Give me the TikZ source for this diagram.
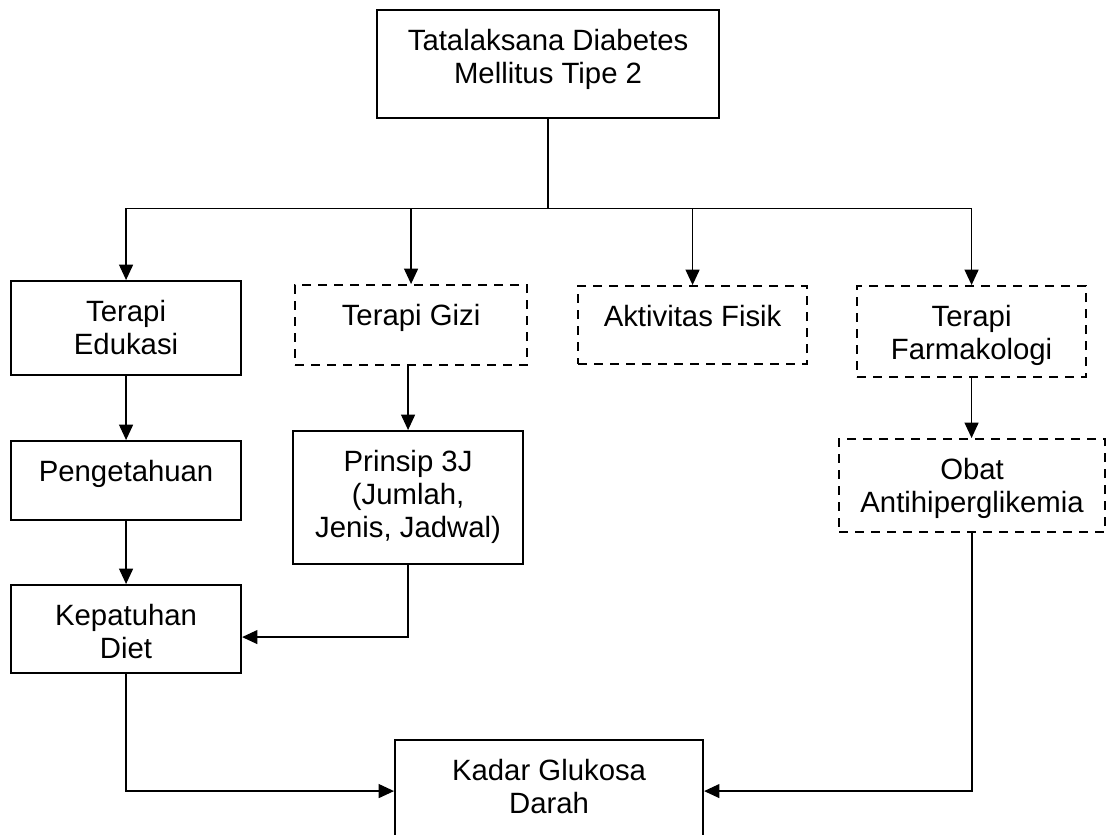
\documentclass[tikz,border=0pt]{standalone}
\usepackage{fontspec}
\setmainfont{Liberation Sans}
\usepackage{tikz}
\usetikzlibrary{arrows.meta}

\newdimen\pxu \pxu=0.75pt
% box content: width, height (in px), lines
\newcommand{\boxtext}[3]{\parbox[c][#2\pxu][t]{#1\pxu}{\centering
  \vspace*{12.7pt}\strut#3}}

\tikzset{
  box/.style={draw, line width=1.6pt, anchor=north west, inner sep=0pt},
  dashbox/.style={box, dash pattern=on 7pt off 5pt},
  link/.style={line width=0.9pt},
}

\begin{document}
\begin{tikzpicture}[x=0.75pt, y=-0.75pt, >={Triangle[length=11.5pt,width=10.5pt]},
    font=\fontsize{22pt}{24.75pt}\selectfont]

  \useasboundingbox (0,0) rectangle (1110,835);

  %--- Top ----------------------------------------------------------------
  \node[box] (top) at (376,9)
    {\boxtext{342}{108}{Tatalaksana Diabetes\\Mellitus Tipe 2}};

  %--- Second row ---------------------------------------------------------
  \node[box]     (edu)   at (10,280)  {\boxtext{230}{94}{Terapi\\Edukasi}};
  \node[dashbox] (gizi)  at (294,284) {\boxtext{232}{80}{Terapi Gizi}};
  \node[dashbox] (fisik) at (577,285) {\boxtext{229}{78}{Aktivitas Fisik}};
  \node[dashbox] (farma) at (856,285) {\boxtext{229}{91}{Terapi\\Farmakologi}};

  %--- Third row ----------------------------------------------------------
  \node[box]     (tahu)    at (10,440)  {\boxtext{230}{79}{Pengetahuan}};
  \node[box]     (prinsip) at (292,430)
    {\boxtext{230}{133}{Prinsip 3J\\(Jumlah,\\Jenis, Jadwal)}};
  \node[dashbox] (obat)    at (838,438) {\boxtext{266}{93}{Obat\\Antihiperglikemia}};

  \node[box] (patuh) at (10,584) {\boxtext{230}{88}{Kepatuhan\\Diet}};

  %--- Bottom -------------------------------------------------------------
  \node[box] (kadar) at (394,739) {\boxtext{308}{102}{Kadar Glukosa\\Darah}};

  %--- Connectors ---------------------------------------------------------
  \draw[link] (top.south) -- ++(0,89) coordinate (bus);
  \draw[link] (edu.north |- bus) -- (farma.north |- bus);
  \foreach \n in {edu, gizi, fisik, farma}
    \draw[link, ->] (\n.north |- bus) -- (\n.north);

  \draw[link, ->] (edu) -- (tahu);
  \draw[link, ->] (tahu) -- (patuh);
  \draw[link, ->] (prinsip.north |- gizi.south) -- (prinsip.north);
  \draw[link, ->] (farma.south) -- (farma.south |- obat.north);
  \draw[link, ->] (prinsip.south) |- ([yshift=-6pt]patuh.east);

  \draw[link, ->] (patuh.south) |- (kadar.west);
  \draw[link, ->] (obat.south) |- (kadar.east);

\end{tikzpicture}
\end{document}
